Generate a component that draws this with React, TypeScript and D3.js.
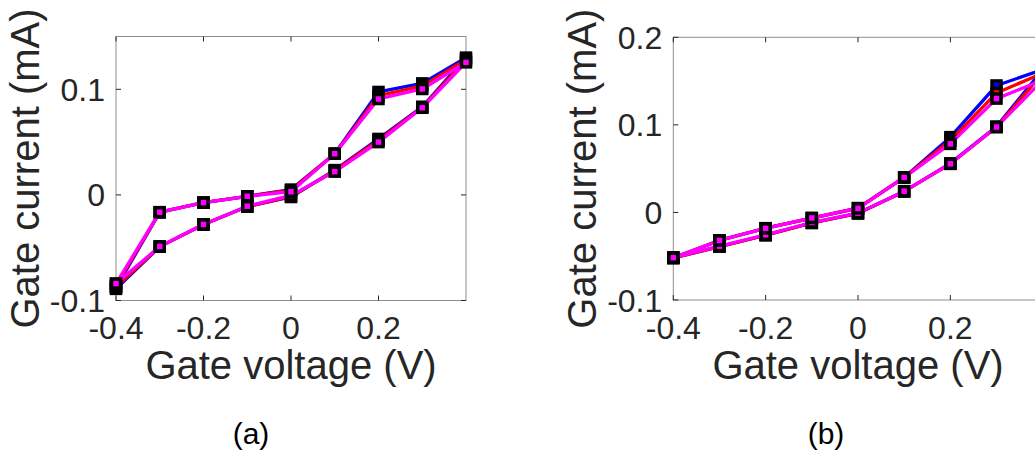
import React, { useEffect, useRef } from 'react';
import * as d3 from 'd3';

// gate voltage sweep: -0.4 -> 0.4 -> -0.4
const sweepV = [-0.4, -0.3, -0.2, -0.1, 0, 0.1, 0.2, 0.3, 0.4, 0.3, 0.2, 0.1, 0, -0.1, -0.2, -0.3, -0.4];

// panel (a) gate current in mA
const blueA = [-0.089, -0.049, -0.028, -0.011, -0.002, 0.0235, 0.053, 0.0835, 0.130, 0.1056, 0.0975, 0.039, 0.005, -0.0013, -0.0073, -0.0164, -0.088];
const redA = [-0.087, -0.049, -0.028, -0.011, -0.0015, 0.023, 0.052, 0.083, 0.128, 0.103, 0.094, 0.039, 0.0045, -0.0013, -0.0073, -0.0164, -0.086];
const magentaA = [-0.084, -0.0488, -0.028, -0.0107, -0.0005, 0.022, 0.050, 0.0825, 0.1255, 0.1003, 0.0908, 0.039, 0.003, -0.0013, -0.0073, -0.0164, -0.084];

// panel (b) gate current in mA
const blueB = [-0.052, -0.039, -0.026, -0.012, -0.001, 0.024, 0.056, 0.098, 0.163, 0.145, 0.086, 0.040, 0.005, -0.0065, -0.018, -0.032, -0.052];
const redB = [-0.052, -0.039, -0.026, -0.012, -0.001, 0.024, 0.0555, 0.0975, 0.159, 0.1365, 0.082, 0.040, 0.0048, -0.0065, -0.018, -0.032, -0.052];
const magentaB = [-0.0515, -0.0385, -0.0255, -0.0115, -0.0008, 0.0243, 0.0555, 0.0975, 0.151, 0.130, 0.0783, 0.0399, 0.0046, -0.0063, -0.0182, -0.032, -0.0517];

const seriesColors = ['#0000ff', '#ff0000', '#ff00ff'];
const xTicks = [-0.4, -0.2, 0, 0.2];
const yTicksA = [-0.1, 0, 0.1];
const yTicksB = [-0.1, 0, 0.1, 0.2];
const xLabel = 'Gate voltage (V)';
const yLabel = 'Gate current (mA)';

const panels = [
  { left: 116, right: 466, top: 36.5, bottom: 300.5, yDomain: [-0.1, 0.15], yTicks: yTicksA, series: [blueA, redA, magentaA], tag: '(a)', tagX: 251 },
  { left: 673.3, right: 1042.7, top: 37.3, bottom: 300, yDomain: [-0.1, 0.2], yTicks: yTicksB, series: [blueB, redB, magentaB], tag: '(b)', tagX: 826 },
];

const font = '"Liberation Sans", Arial, Helvetica, sans-serif';
const axisColor = '#262626';

const App = () => {
  const svgRef = useRef(null);

  useEffect(() => {
    const svg = d3.select(svgRef.current);
    svg.selectAll('*').remove();
    svg.append('rect').attr('width', 1035).attr('height', 451).attr('fill', '#fff');

    panels.forEach((p) => {
      const x = d3.scaleLinear().domain([-0.4, 0.4]).range([p.left, p.right]);
      const y = d3.scaleLinear().domain(p.yDomain).range([p.bottom, p.top]);
      const g = svg.append('g');

      // box
      g.append('rect')
        .attr('x', p.left).attr('y', p.top)
        .attr('width', p.right - p.left).attr('height', p.bottom - p.top)
        .attr('fill', 'none').attr('stroke', '#8f8f8f').attr('stroke-width', 1);

      // ticks, pointing inwards on all four sides
      const tl = 5;
      xTicks.forEach((t) => {
        g.append('line').attr('x1', x(t)).attr('x2', x(t)).attr('y1', p.bottom).attr('y2', p.bottom - tl)
          .attr('stroke', axisColor);
        g.append('line').attr('x1', x(t)).attr('x2', x(t)).attr('y1', p.top).attr('y2', p.top + tl)
          .attr('stroke', axisColor);
        g.append('text').attr('x', x(t)).attr('y', 339).attr('text-anchor', 'middle')
          .attr('font-family', font).attr('font-size', 32).attr('fill', axisColor)
          .text(String(t));
      });
      p.yTicks.forEach((t) => {
        g.append('line').attr('x1', p.left).attr('x2', p.left + tl).attr('y1', y(t)).attr('y2', y(t))
          .attr('stroke', axisColor);
        g.append('line').attr('x1', p.right).attr('x2', p.right - tl).attr('y1', y(t)).attr('y2', y(t))
          .attr('stroke', axisColor);
        g.append('text').attr('x', p.left - 11).attr('y', y(t)).attr('dy', '0.36em')
          .attr('text-anchor', 'end')
          .attr('font-family', font).attr('font-size', 32).attr('fill', axisColor)
          .text(String(t));
      });

      // labels
      g.append('text').attr('x', (p.left + p.right) / 2).attr('y', 379).attr('text-anchor', 'middle')
        .attr('font-family', font).attr('font-size', 40).attr('fill', axisColor)
        .text(xLabel);
      g.append('text')
        .attr('transform', `translate(${p.left - 77},${(p.top + p.bottom) / 2}) rotate(-90)`)
        .attr('text-anchor', 'middle')
        .attr('font-family', font).attr('font-size', 40).attr('fill', axisColor)
        .text(yLabel);
      g.append('text').attr('x', p.tagX).attr('y', 444).attr('text-anchor', 'middle')
        .attr('font-family', font).attr('font-size', 30).attr('fill', '#000')
        .text(p.tag);

      // series: line then square markers, blue -> red -> magenta
      const line = d3.line().x((d) => x(d[0])).y((d) => y(d[1]));
      p.series.forEach((vals, i) => {
        const pts = sweepV.map((v, k) => [v, vals[k]]);
        g.append('path').attr('d', line(pts))
          .attr('fill', 'none').attr('stroke', seriesColors[i]).attr('stroke-width', 3.3)
          .attr('stroke-linejoin', 'round');
        g.selectAll(null)
          .data(pts)
          .join('rect')
          .attr('x', (d) => x(d[0]) - 4.5)
          .attr('y', (d) => y(d[1]) - 4.5)
          .attr('width', 9).attr('height', 9)
          .attr('fill', seriesColors[i])
          .attr('stroke', '#000').attr('stroke-width', 3.5);
      });
    });
  }, []);

  return (
    <svg ref={svgRef} width={1035} height={451}
      style={{ position: 'absolute', left: 0, top: 0, display: 'block' }} />
  );
};

export default App;
